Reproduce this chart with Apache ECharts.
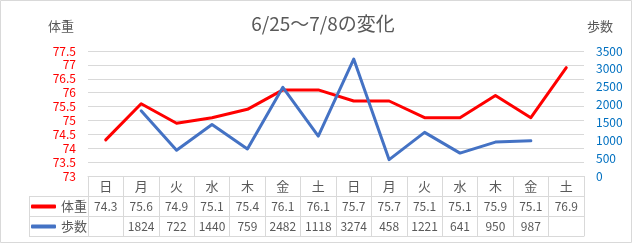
<!DOCTYPE html>
<html><head><meta charset="utf-8">
<script src="https://cdn.jsdelivr.net/npm/echarts@6/dist/echarts.min.js"></script>
<style>html,body{margin:0;padding:0;background:#fff}#c{width:636px;height:244px}</style>
</head><body><div id="c"></div>
<script>
const days = ['日','月','火','水','木','金','土','日','月','火','水','木','金','土'];
const weight = [74.3,75.6,74.9,75.1,75.4,76.1,76.1,75.7,75.7,75.1,75.1,75.9,75.1,76.9];
const steps = [null,1824,722,1440,759,2482,1118,3274,458,1221,641,950,987,null];
const titleText = '6/25～7/8の変化';

const FONT = '"Noto Sans CJK JP", "Noto Sans", sans-serif';
const GRAY = '#595959';
const LINE = '#d9d9d9';
const chart = echarts.init(document.getElementById('c'), null, {renderer:'canvas'});
const lbl = {margin:0, lineHeight:20, height:20, verticalAlign:'top', color:GRAY, fontSize:12, fontFamily:FONT, interval:0};
const tableAxis = (data, offset, showLabel) => ({
  type:'category', data, position:'bottom', offset, boundaryGap:true,
  axisLine:{show:true, lineStyle:{color:LINE, width:1}},
  axisTick:{show:false},
  axisLabel:Object.assign({}, lbl, {show:showLabel}),
  splitLine:{show:false}
});
chart.setOption({
  animation:false,
  textStyle:{fontFamily:FONT},
  title:{text:titleText, left:318, top:9, textAlign:'center',
    textStyle:{fontSize:19, fontWeight:'normal', color:GRAY, fontFamily:FONT}},
  grid:{left:88, right:52, top:51, bottom:68},
  legend:[
    {data:['体重'], left:26, top:195, padding:5, icon:'roundRect', itemWidth:25, itemHeight:4,
     textStyle:{color:GRAY, fontSize:13, fontFamily:FONT}},
    {data:['歩数'], left:26, top:215, padding:5, icon:'roundRect', itemWidth:25, itemHeight:4,
     textStyle:{color:GRAY, fontSize:13, fontFamily:FONT}}
  ],
  xAxis:[
    {type:'category', data:days, position:'bottom', boundaryGap:true,
     axisLine:{show:true, lineStyle:{color:LINE, width:1}},
     axisTick:{show:true, length:60, inside:false, lineStyle:{color:LINE, width:1}},
     axisLabel:Object.assign({}, lbl, {fontSize:13}),
     splitLine:{show:false}},
    tableAxis(weight.map(v=>v==null?'':String(v)), 20, true),
    tableAxis(steps.map(v=>v==null?'':String(v)), 40, true),
    tableAxis(days, 60, false)
  ],
  yAxis:[
    {type:'value', min:73, max:77.5, interval:0.5, position:'left',
     axisLine:{show:false}, axisTick:{show:false},
     axisLabel:{color:'#ff0000', fontSize:12, margin:12, fontFamily:FONT},
     splitLine:{show:true, lineStyle:{color:LINE, width:1}}},
    {type:'value', min:0, max:3500, interval:500, position:'right',
     axisLine:{show:false}, axisTick:{show:false},
     axisLabel:{color:'#0070c0', fontSize:12, margin:12, fontFamily:FONT, formatter:v=>String(v)},
     splitLine:{show:false}}
  ],
  series:[
    {name:'体重', type:'line', data:weight, xAxisIndex:0, yAxisIndex:0, showSymbol:false, symbol:'none',
     itemStyle:{color:'#ff0000'}, lineStyle:{color:'#ff0000', width:3, cap:'round', join:'round'}},
    {name:'歩数', type:'line', data:steps, xAxisIndex:0, yAxisIndex:1, showSymbol:false, symbol:'none',
     itemStyle:{color:'#4472c4'}, lineStyle:{color:'#4472c4', width:3, cap:'round', join:'round'}}
  ],
  graphic:[
    {type:'rect', shape:{x:0.5, y:0.5, width:631, height:242}, style:{fill:null, stroke:LINE, lineWidth:1}, silent:true},
    {type:'line', shape:{x1:29, y1:196.5, x2:88, y2:196.5}, style:{stroke:LINE, lineWidth:1}},
    {type:'line', shape:{x1:29, y1:216.5, x2:88, y2:216.5}, style:{stroke:LINE, lineWidth:1}},
    {type:'line', shape:{x1:29, y1:236.5, x2:88, y2:236.5}, style:{stroke:LINE, lineWidth:1}},
    {type:'line', shape:{x1:29.5, y1:196, x2:29.5, y2:237}, style:{stroke:LINE, lineWidth:1}},
    {type:'text', left:48, top:20, style:{text:'体重', fill:GRAY, font:'13px ' + FONT}},
    {type:'text', left:587, top:20, style:{text:'歩数', fill:GRAY, font:'13px ' + FONT}}
  ]
});
</script></body></html>
